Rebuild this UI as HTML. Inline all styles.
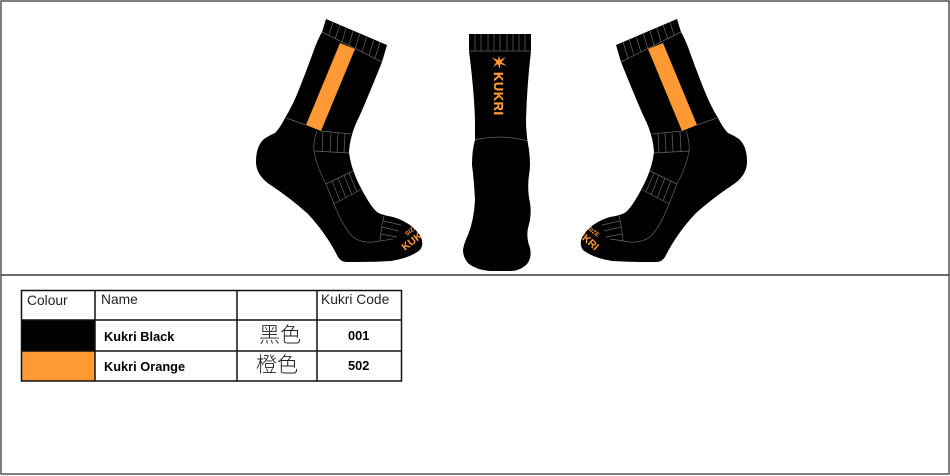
<!DOCTYPE html>
<html><head><meta charset="utf-8"><style>
html,body{margin:0;padding:0;background:#fff;width:950px;height:476px;overflow:hidden}
svg{display:block}
.h{font:13.8px "Liberation Sans",sans-serif;fill:#231f20}
.b{font:bold 12.8px "Liberation Sans",sans-serif;fill:#000}
.c{font:300 21px "Noto Sans CJK TC","Noto Sans CJK SC",sans-serif;fill:#231f20}
.o{font-family:"Liberation Sans",sans-serif;font-weight:bold;fill:#ff9933}
</style></head><body>
<svg width="950" height="476" viewBox="0 0 950 476" xmlns="http://www.w3.org/2000/svg">
<defs>
<path id="sp" d="M326,19 L387,45 L382,62 Q370,92 360,115 Q350,134 349,152 Q351,170 362,190 Q371,207 377,212 Q381,215 393,217 Q410,222 419,234 Q425,243 420,250 Q410,258 391,261 Q375,262 347,262 Q341,262 338,257 Q326,233 307,213 Q290,198 272,186 Q256,176 256,162 Q256,146 264,139 Q270,135 275,133 Q280,128 285,118 Q293,105 300,87 Q309,64 315,47 Q319,37 322,32 Z"/>
<clipPath id="cl"><use href="#sp"/></clipPath>
<clipPath id="cr"><use href="#sp" transform="translate(1003,0) scale(-1,1)"/></clipPath>
<g id="sock">
<use href="#sp" fill="#000"/>
<path d="M340,43 L355,49 L321,131 L306,125 Z" fill="#ff9933"/>
<g fill="none" stroke="#666" stroke-width=".7">
<path d="M322,32 L382,62"/>
<path d="M333,22 L329,35 M340,25 L335,39 M346,28 L342,42 M353,31 L349,45 M360,33 L355,49 M367,36 L362,52 M374,39 L369,55 M380,42 L375,58"/>
<path d="M286,118 L306,125 M321,131 L351,134"/>
<path d="M317,131 Q313,142 314,151 Q316,165 326,184 L334,204 Q342,225 352,236 Q360,243 373,242 L393,239"/>
<path d="M314,151 L349,153"/>
<path d="M323,132 L322,152 M331,133 L330,152 M338,133 L337,153 M345,134 L344,153"/>
<path d="M326,184 L353,171 M334,204 L362,189"/>
<path d="M332,181 L340,201 M338,178 L346,198 M344,175 L352,195 M349,173 L357,192"/>
<path d="M384,216 Q381,228 380,241"/>
<path d="M383,221 L401,225 M382,227 L399,231 M381,234 L397,237"/>
</g>
</g>
</defs>
<rect width="950" height="476" fill="#fff"/>
<rect x="1" y="1" width="948" height="473" fill="none" stroke="#3a3a3a" stroke-width="1.3"/>
<line x1="1" y1="275" x2="949" y2="275" stroke="#3a3a3a" stroke-width="1.5"/>

<use href="#sock"/>
<use href="#sock" transform="translate(1003,0) scale(-1,1)"/>

<path d="M469,34 L531,34 L531,51 Q527,85 526,120 Q526,135 529,150 Q531,165 529,175 Q527,190 530,203 Q532,215 528,228 Q526,238 530,248 Q532,258 527,264 Q520,271 510,271 L490,271 Q477,270 469,264 Q463,258 463,250 Q464,243 468,235 Q474,220 475,200 Q474,180 472,165 Q472,150 475,140 L475,120 Q474,90 469,51 Z" fill="#000"/>
<g fill="none" stroke="#666" stroke-width=".7">
<path d="M469,51 H531 M475,140 C490,136 510,136 527,141"/>
<path d="M475,34V51M481,34V51M488,34V51M494,34V51M500,34V51M507,34V51M513,34V51M519,34V51M525,34V51"/>
</g>
<path d="M499,55 L500,60 L506,57 L501.5,62 L507,66 L500.5,64 L499.5,69 L498,64 L493,67 L496.5,62 L492,57.5 L498,60 Z" fill="#ff9933"/>
<text class="o" font-size="12.8" textLength="43" stroke="#ff9933" stroke-width=".3" transform="translate(494,72) rotate(90)">KUKRI</text>

<g clip-path="url(#cl)">
<text class="o" font-size="6" transform="translate(407,236) rotate(-38)">SIZE</text>
<text class="o" font-size="10.5" transform="translate(405,251) rotate(-38)">KUKRI</text>
</g>
<g clip-path="url(#cr)">
<text class="o" font-size="6" transform="translate(587,229) rotate(38)">SIZE</text>
<text class="o" font-size="10.5" transform="translate(570,229) rotate(41)">KUKRI</text>
</g>

<rect x="21" y="320" width="74" height="31" fill="#000"/>
<rect x="21" y="351" width="74" height="30" fill="#ff9933"/>
<g fill="none" stroke="#111" stroke-width="1.5">
<rect x="21.5" y="290.5" width="380" height="90.5"/>
<path d="M95,290V381 M237,290V381 M317,290V381 M21,320H402 M21,351H402"/>
</g>
<text class="h" x="27" y="305">Colour</text>
<text class="h" x="101" y="304">Name</text>
<text class="h" x="321" y="304">Kukri Code</text>
<text class="b" x="104" y="341">Kukri Black</text>
<text class="b" x="104" y="371">Kukri Orange</text>
<text class="c" x="259" y="342">黑色</text>
<text class="c" x="256" y="372">橙色</text>
<text class="b" x="348" y="340">001</text>
<text class="b" x="348" y="370">502</text>
</svg>
</body></html>
